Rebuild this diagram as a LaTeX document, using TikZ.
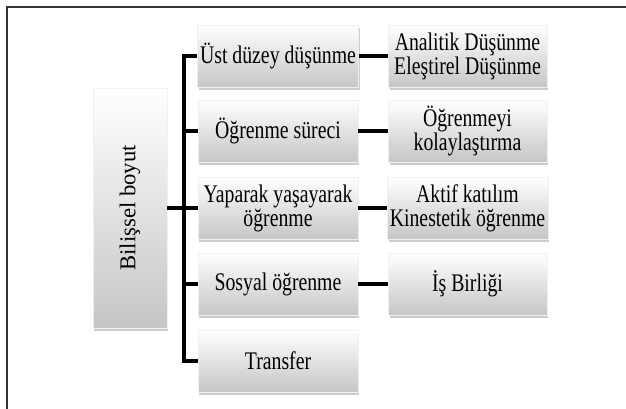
\documentclass[tikz,border=0pt]{standalone}
\usepackage{fontspec}
\setmainfont[FakeStretch=0.78]{Liberation Serif}
\newfontfamily\rootfont{Liberation Serif}
\usetikzlibrary{shadows,calc}

\begin{document}
\begin{tikzpicture}[x=0.75pt,y=-0.75pt]
			
			\tikzstyle{every node}=[font=\fontsize{19pt}{18pt}\selectfont]
			\tikzstyle{box}=[rectangle, align=center, inner sep=2pt, top color=white, bottom color=gray!45, draw=gray!12, drop shadow={shadow xshift=1pt, shadow yshift=-2pt, opacity=0.4}]
			\tikzstyle{mid}=[box, minimum width=120pt, minimum height=46.5pt]
			\tikzstyle{leaf}=[box, minimum width=119pt, minimum height=46.5pt]
			\tikzstyle{link}=[line width=3pt, black]
			
			\useasboundingbox (0,0) rectangle (626,409);
			\draw[line width=1.2pt, black!80] (7,409) -- (7,7) -- (626,7);
			
			\node[box, minimum width=55.5pt, minimum height=180pt] (root) at (130,208) {};
			\node[rotate=90, font=\rootfont\fontsize{17pt}{17pt}\selectfont] (rootlabel) at (root.center) {Bilişsel boyut};
			
			\node[mid] (m1) at (278,56) {Üst düzey düşünme};
			\node[mid] (m2) at (278,131) {Öğrenme süreci};
			\node[mid] (m3) at (278,208) {Yaparak yaşayarak\\öğrenme};
			\node[mid] (m4) at (278,284) {Sosyal öğrenme};
			\node[mid] (m5) at (278,361) {Transfer};
			
			\node[leaf] (r1) at (467.5,56) {Analitik Düşünme\\Eleştirel Düşünme};
			\node[leaf] (r2) at (467.5,131) {Öğrenmeyi\\kolaylaştırma};
			\node[leaf] (r3) at (467.5,208) {Aktif katılım\\Kinestetik öğrenme};
			\node[leaf] (r4) at (467.5,284) {İş Birliği};
			
			% trunk
			\coordinate (trunk) at (184,0);
			\draw[link] (m1.west) -- (m1.west -| trunk) -- (m5.west -| trunk) -- (m5.west);
			\draw[link] (root.east) -- (root.east -| trunk);
			\foreach \i in {2,3,4}
			\draw[link] (m\i.west) -- (m\i.west -| trunk);
			
			\foreach \i in {1,...,4}
			\draw[link] (m\i.east) -- (r\i.west);
			
			\end{tikzpicture}
\end{document}
